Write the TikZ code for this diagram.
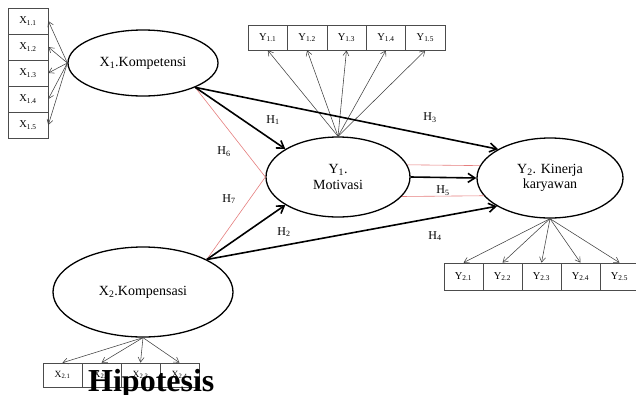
\documentclass[tikz,border=0pt]{standalone}
\usepackage{fontspec}
\setmainfont{Liberation Serif}
\usetikzlibrary{shapes.geometric,arrows.meta}
\newcommand{\sbx}[1]{\textsubscript{#1}}
\tikzset{
  latent/.style={ellipse, draw, line width=1.3pt, inner sep=0pt, align=center,
    font=\fontsize{14}{15.5}\selectfont},
  indbox/.style={rectangle, draw=black!70, line width=0.6pt, inner sep=0pt,
    font=\fontsize{10.5}{12}\selectfont},
  patharrow/.style={line width=1.6pt, -{Straight Barb[length=7pt,width=9pt]}},
  redline/.style={draw=red!45!white!90!black, line width=0.6pt},
  loadarrow/.style={draw=black!75, line width=0.55pt, -{Straight Barb[length=5pt,width=6pt]}},
  hlabel/.style={font=\fontsize{12}{14}\selectfont, inner sep=0pt}
}
\begin{document}
\begin{tikzpicture}[x=1pt,y=-1pt]
\useasboundingbox (0,0) rectangle (636,394);

% latent variables
\node[latent, minimum width=150pt, minimum height=66pt] (x1) at (143,63) {X\sbx{1}.Kompetensi};
\node[latent, minimum width=180pt, minimum height=90pt] (x2) at (143,292) {X\sbx{2}.Kompensasi};
\node[latent, minimum width=144pt, minimum height=80pt] (y1) at (338,177) {Y\sbx{1}.\\Motivasi};
\node[latent, minimum width=146pt, minimum height=80pt] (y2) at (550,178) {Y\sbx{2}. Kinerja\\karyawan};

% X1 indicators
\foreach \i/\yy in {1/21,2/47,3/73,4/99,5/125}{
  \node[indbox, minimum width=40pt, minimum height=26pt] (x1\i) at (28,\yy) {X\sbx{1.\i}};
  \draw[loadarrow] (x1.west) -- (x1\i.east);
}
% Y1 indicators
\foreach \i/\xx in {1/267.7,2/307.1,3/346.5,4/385.9,5/425.3}{
  \node[indbox, minimum width=39.4pt, minimum height=25pt] (y1\i) at (\xx,37.5) {Y\sbx{1.\i}};
  \draw[loadarrow] (y1.north) -- (y1\i.south);
}
% Y2 indicators
\foreach \i/\xx in {1/463.5,2/502.5,3/541.5,4/580.5,5/619.5}{
  \node[indbox, minimum width=39pt, minimum height=27pt] (y2\i) at (\xx,276.5) {Y\sbx{2.\i}};
  \draw[loadarrow] (y2.south) -- (y2\i.north);
}
% X2 indicators
\foreach \i/\xx in {1/62.5,2/101.5,3/140.5,4/179.5}{
  \node[indbox, minimum width=39pt, minimum height=24pt, font=\fontsize{9.5}{11}\selectfont] (x2\i) at (\xx,375) {X\sbx{2.\i}};
  \draw[loadarrow] (x2.south) -- (x2\i.north);
}

% red lines
\draw[redline] (x1.-25) -- (y1.west);
\draw[redline] (x2.27) -- (y1.west);
\draw[redline] (y1.10) -- (y2.170);
\draw[redline] (y1.-17) -- (y2.195);

% structural paths
\draw[patharrow] (x1.-25) -- (y1.152);
\draw[patharrow] (x1.-25) -- (y2.151);
\draw[patharrow] (x2.27) -- (y1.208);
\draw[patharrow] (x2.27) -- (y2.208);
\draw[patharrow] (y1.east) -- (y2.west);

% labels
\node[hlabel] (h1) at (273,120) {H\sbx{1}};
\node[hlabel] (h3) at (430,118) {H\sbx{3}};
\node[hlabel] (h6) at (224,152) {H\sbx{6}};
\node[hlabel] (h7) at (229,199) {H\sbx{7}};
\node[hlabel] (h2) at (284,232) {H\sbx{2}};
\node[hlabel] (h5) at (443,191) {H\sbx{5}};
\node[hlabel] (h4) at (435,236) {H\sbx{4}};

% title
\node[anchor=base west, inner sep=0pt, font=\fontsize{32}{36}\selectfont\bfseries] (title) at (88,391) {Hipotesis};
\end{tikzpicture}
\end{document}
